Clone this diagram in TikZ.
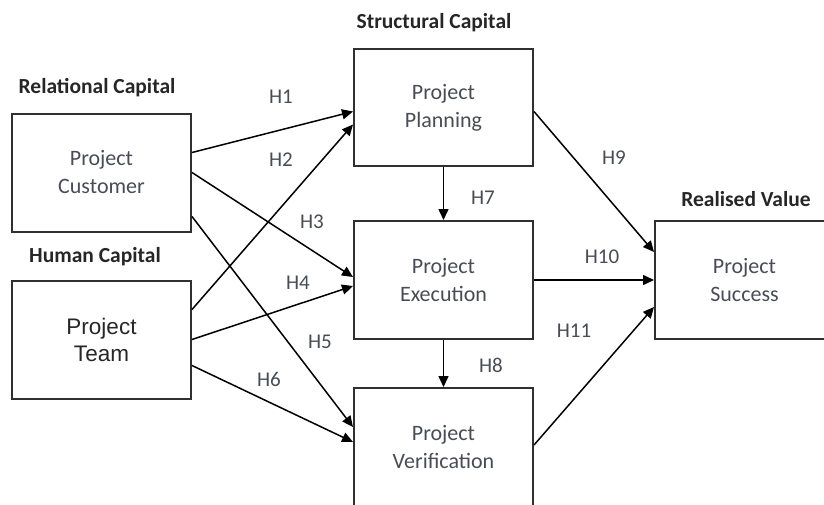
\documentclass[tikz,border=0pt]{standalone}
\usepackage{fontspec}
\setmainfont{Carlito}
\newfontfamily\teamfont{Liberation Sans}
\usetikzlibrary{arrows.meta}
\definecolor{boxtext}{HTML}{484C54}
\definecolor{edgegray}{HTML}{303030}
\tikzset{
	bloc/.style={draw=edgegray,line width=2,minimum width=179,minimum height=118,align=center,text=boxtext,font=\fontsize{22}{28}\selectfont},
	fleche/.style={line width=1.5,-{Triangle[length=11,width=10]}},
	hyp/.style={text=boxtext,font=\fontsize{21}{22}\selectfont},
	titre/.style={text=black!85,font=\bfseries\fontsize{21.5}{22}\selectfont}
}
\begin{document}
\begin{tikzpicture}[x=1pt,y=-1pt]
		\useasboundingbox (0,0) rectangle (824,504);
		\clip (0,0) rectangle (824,504);
		
		\node[bloc] (cust) at (101.5,172.5) {Project\\Customer};
		\node[bloc,text=black!85,font=\teamfont\fontsize{22.5}{27}\selectfont] (team) at (101.5,339.5) {Project\\Team};
		\node[bloc,minimum height=117] (plan) at (443.5,107.5) {Project\\Planning};
		\node[bloc] (exec) at (443.5,280) {Project\\Execution};
		\node[bloc] (verif) at (443.5,447) {Project\\Verification};
		\node[bloc,minimum height=118] (succ) at (744.5,280) {Project\\Success};
		
		\node[titre] (relcap) at (97,88) {Relational Capital};
		\node[titre] (humcap) at (95,257) {Human Capital};
		\node[titre] (strcap) at (434,23) {Structural Capital};
		\node[titre] (realval) at (746,199) {Realised Value};
		
		\draw[fleche] ([yshift=20]cust.east) to ([yshift=-4]plan.west);
		\draw[fleche] ([yshift=30]team.east) to ([yshift=-17]plan.west);
		\draw[fleche] ([yshift=0]cust.east) to ([yshift=3]exec.west);
		\draw[fleche] ([yshift=0]team.east) to ([yshift=-6]exec.west);
		\draw[fleche] ([yshift=-44]cust.east) to ([yshift=20]verif.west);
		\draw[fleche] ([yshift=-26]team.east) to ([yshift=5]verif.west);
		\draw[fleche] (plan.south) to (exec.north);
		\draw[fleche] (exec.south) to (verif.north);
		\draw[fleche] ([yshift=-4]plan.east) to ([yshift=28]succ.west);
		\draw[fleche] (exec.east) to (succ.west);
		\draw[fleche] ([yshift=2]verif.east) to ([yshift=-27]succ.west);
		
		\node[hyp] (h1) at (281,97) {H1};
		\node[hyp] (h2) at (281,160) {H2};
		\node[hyp] (h3) at (312,222) {H3};
		\node[hyp] (h4) at (298,283) {H4};
		\node[hyp] (h5) at (320,342) {H5};
		\node[hyp] (h6) at (269,379) {H6};
		\node[hyp] (h7) at (483,198) {H7};
		\node[hyp] (h8) at (491,365) {H8};
		\node[hyp] (h9) at (614,158) {H9};
		\node[hyp] (h10) at (602,257) {H10};
		\node[hyp] (h11) at (574,331) {H11};
	\end{tikzpicture}
\end{document}
